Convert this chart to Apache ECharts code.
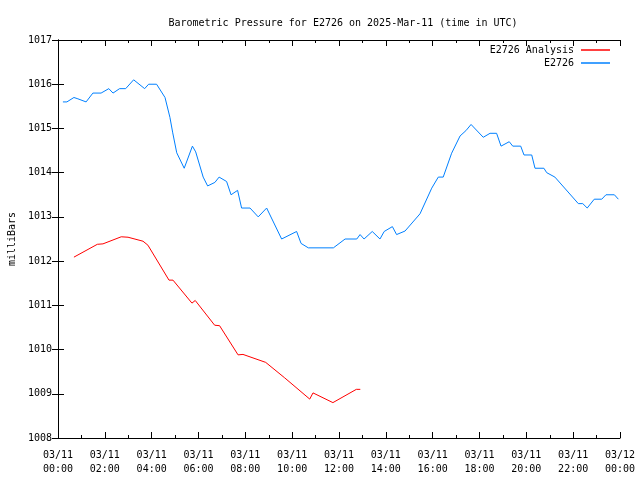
<!DOCTYPE html>
<html>
<head>
<meta charset="utf-8">
<script src="https://cdn.jsdelivr.net/npm/echarts@6/dist/echarts.min.js"></script>
<style>html,body{margin:0;padding:0;background:#fff;}#c{width:640px;height:480px;}</style>
</head>
<body>
<div id="c"></div>
<script>
// E2726 observed pressure (hours since 2025-03-11 00:00 UTC, millibars)
var obsHours = [0.21,0.38,0.68,0.85,1.20,1.49,1.84,2.17,2.35,2.63,2.89,3.23,3.70,3.87,4.21,4.57,4.78,4.90,5.07,5.39,5.74,5.88,6.20,6.39,6.70,6.88,7.20,7.39,7.67,7.84,8.20,8.55,8.91,9.55,10.19,10.38,10.69,11.76,12.26,12.76,12.90,13.07,13.42,13.75,13.93,14.28,14.46,14.82,15.46,15.96,16.24,16.45,16.81,17.17,17.42,17.64,18.16,18.45,18.73,18.92,19.27,19.42,19.76,19.90,20.23,20.37,20.75,20.87,21.22,22.22,22.41,22.60,22.90,23.22,23.40,23.76,23.93];
var obsValues = [1015.6,1015.6,1015.7,1015.67,1015.6,1015.8,1015.8,1015.9,1015.8,1015.9,1015.9,1016.1,1015.9,1016.0,1016.0,1015.7,1015.25,1014.9,1014.45,1014.1,1014.6,1014.47,1013.9,1013.7,1013.78,1013.9,1013.8,1013.5,1013.6,1013.2,1013.2,1013.0,1013.2,1012.5,1012.67,1012.4,1012.3,1012.3,1012.5,1012.5,1012.6,1012.5,1012.67,1012.5,1012.67,1012.78,1012.6,1012.68,1013.07,1013.65,1013.9,1013.9,1014.44,1014.83,1014.95,1015.09,1014.8,1014.89,1014.89,1014.6,1014.7,1014.6,1014.6,1014.4,1014.4,1014.1,1014.1,1014.0,1013.9,1013.3,1013.3,1013.2,1013.4,1013.4,1013.5,1013.5,1013.4];
// E2726 Analysis
var anaHours = [0.68,1.68,1.92,2.70,2.99,3.63,3.84,4.74,4.91,5.72,5.86,6.69,6.90,7.69,7.90,8.87,9.68,10.75,10.89,11.74,12.74,12.91];
var anaValues = [1012.09,1012.38,1012.39,1012.55,1012.54,1012.45,1012.36,1011.57,1011.57,1011.05,1011.11,1010.55,1010.54,1009.88,1009.89,1009.71,1009.36,1008.88,1009.02,1008.80,1009.10,1009.10];
var xTickHours = [0,2,4,6,8,10,12,14,16,18,20,22,24];
var xTickDates = ['03/11','03/11','03/11','03/11','03/11','03/11','03/11','03/11','03/11','03/11','03/11','03/11','03/12'];
var xTickTimes = ['00:00','02:00','04:00','06:00','08:00','10:00','12:00','14:00','16:00','18:00','20:00','22:00','00:00'];

function pairs(h, v){ return h.map(function(x,i){ return [x, v[i]]; }); }
var FONT = 'DejaVu Sans Mono';
var chart = echarts.init(document.getElementById('c'), null, {renderer:'canvas'});
var axisCommon = {
  axisLine:{show:true, lineStyle:{color:'#000', width:1}},
  splitLine:{show:false}
};
chart.setOption({
  animation:false,
  backgroundColor:'#fff',
  title:{text:'Barometric Pressure for E2726 on 2025-Mar-11 (time in UTC)', left:338, top:13, textAlign:'center',
    textStyle:{fontFamily:FONT, fontSize:10, fontWeight:'normal', color:'#000'}},
  legend:{orient:'vertical', right:30, top:44, padding:0, align:'right', itemWidth:29, itemHeight:1.5, itemGap:1,
    icon:'rect', textStyle:{fontFamily:FONT, fontSize:10, color:'#000', lineHeight:12, padding:[0,2,0,0]},
    data:['E2726 Analysis','E2726']},
  grid:{left:58, right:20, top:40, bottom:42, containLabel:false, outerBoundsMode:'none'},
  xAxis:[Object.assign({}, axisCommon, {
    type:'value', min:0, max:24, interval:2, position:'bottom',
    axisTick:{show:true, inside:true, length:6, lineStyle:{color:'#000'}},
    minorTick:{show:true, splitNumber:2, length:3, lineStyle:{color:'#000'}},
    axisLabel:{show:true, margin:10, fontFamily:FONT, fontSize:10, color:'#000', lineHeight:14, hideOverlap:false,
      formatter:function(v){ var i = xTickHours.indexOf(v); return i<0 ? '' : xTickDates[i]+'\n'+xTickTimes[i]; }}
  }), Object.assign({}, axisCommon, {
    type:'value', min:0, max:24, interval:2, position:'top',
    axisTick:{show:true, inside:true, length:6, lineStyle:{color:'#000'}},
    minorTick:{show:true, splitNumber:2, length:3, lineStyle:{color:'#000'}},
    axisLabel:{show:false}
  })],
  yAxis:[Object.assign({}, axisCommon, {
    type:'value', min:1008, max:1017, interval:1, position:'left',
    name:'milliBars', nameLocation:'middle', nameGap:40, nameRotate:90,
    nameTextStyle:{fontFamily:FONT, fontSize:10, color:'#000'},
    axisTick:{show:true, inside:true, length:6, lineStyle:{color:'#000'}},
    axisLabel:{show:true, margin:6, fontFamily:FONT, fontSize:10, color:'#000',
      formatter:function(v){ return String(v); }}
  }), Object.assign({}, axisCommon, {
    type:'value', min:1008, max:1017, interval:1, position:'right',
    axisTick:{show:true, inside:true, length:6, lineStyle:{color:'#000'}},
    axisLabel:{show:false}
  })],
  series:[
    {name:'E2726 Analysis', type:'line', xAxisIndex:0, yAxisIndex:0, data:pairs(anaHours, anaValues),
      showSymbol:false, symbol:'none', color:'#ff0000', lineStyle:{color:'#ff0000', width:1}},
    {name:'E2726', type:'line', xAxisIndex:0, yAxisIndex:0, data:pairs(obsHours, obsValues),
      showSymbol:false, symbol:'none', color:'#0080ff', lineStyle:{color:'#0080ff', width:1}}
  ]
});
</script>
</body>
</html>
